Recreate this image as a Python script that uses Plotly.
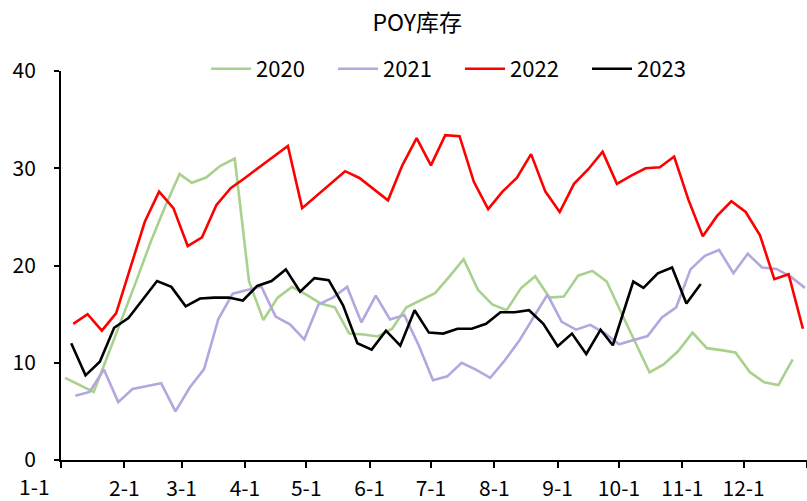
import pandas as pd
import plotly.graph_objects as go

BASE_YEAR = "2023"  # all years are drawn on one common Jan–Dec axis

# ---- data (weekly POY inventory, days) ----
dates_2020 = list(pd.date_range("2020-01-03", periods=52, freq="7D").strftime("%m-%d"))
vals_2020 = [8.45, 7.7, 7.0, 10.8, 14.6, 18.5, 22.5, 26.1, 29.4, 28.5, 29.05, 30.25, 31.0,
             18.35, 14.4, 16.7, 17.8, 17.0, 16.1, 15.7, 13.0, 12.9, 12.7, 13.5, 15.7, 16.45,
             17.15, 18.85, 20.65, 17.5, 16.0, 15.4, 17.65, 18.9, 16.7, 16.8, 18.95, 19.45,
             18.35, 15.2, 12.1, 9.0, 9.85, 11.2, 13.1, 11.5, 11.3, 11.05, 9.05, 8.0, 7.7, 10.35]

dates_2021 = list(pd.date_range("2021-01-08", periods=52, freq="7D").strftime("%m-%d"))
vals_2021 = [6.6, 7.0, 9.3, 5.95, 7.3, 7.6, 7.9, 5.0, 7.45, 9.35, 14.5, 17.1, 17.5, 17.85,
             14.75, 13.95, 12.4, 16.0, 16.7, 17.8, 14.15, 16.9, 14.45, 14.9, 11.8, 8.2, 8.6,
             10.0, 9.3, 8.45, 10.2, 12.2, 14.6, 17.0, 14.2, 13.4, 13.9, 13.05, 11.9, 12.3,
             12.75, 14.65, 15.7, 19.6, 21.0, 21.6, 19.2, 21.2, 19.8, 19.65, 18.85, 17.7]

dates_2022 = list(pd.date_range("2022-01-07", periods=52, freq="7D").strftime("%m-%d"))
vals_2022 = [14.0, 15.0, 13.3, 15.1, 19.8, 24.5, 27.6, 25.9, 22.0, 22.9, 26.2, 27.95, 29.0,
             30.1, 31.2, 32.3, 25.9, 27.2, 28.4, 29.7, 29.0, 27.85, 26.7, 30.3, 33.1, 30.3,
             33.4, 33.3, 28.6, 25.8, 27.6, 29.0, 31.45, 27.6, 25.5, 28.4, 29.9, 31.7, 28.4,
             29.25, 30.0, 30.1, 31.2, 26.75, 23.0, 25.1, 26.6, 25.5, 23.1, 18.6, 19.1, 13.5]

dates_2023 = ["01-06", "01-13", "01-20", "01-27", "02-03", "02-10", "02-17", "02-24",
              "03-03", "03-10", "03-17", "03-24", "03-31", "04-07", "04-14", "04-21",
              "04-28", "05-05", "05-12", "05-19", "05-26", "06-02", "06-09", "06-16",
              "06-23", "06-30", "07-07", "07-14", "07-21", "07-28", "08-04", "08-11",
              "08-18", "08-25", "09-01", "09-08", "09-15", "09-22", "09-28", "10-08",
              "10-13", "10-20", "10-27", "11-03", "11-10"]
vals_2023 = [12.0, 8.7, 10.1, 13.6, 14.6, 16.5, 18.4, 17.8, 15.8, 16.6, 16.7, 16.7, 16.4,
             17.9, 18.4, 19.6, 17.3, 18.7, 18.5, 15.9, 12.0, 11.35, 13.3, 11.75, 15.4, 13.1,
             13.0, 13.5, 13.5, 14.0, 15.2, 15.2, 15.4, 14.0, 11.7, 13.0, 10.9, 13.4, 11.8,
             18.35, 17.7, 19.2, 19.8, 16.1, 18.1]

series_names = ["2020", "2021", "2022", "2023"]
series_dates = [dates_2020, dates_2021, dates_2022, dates_2023]
series_vals = [vals_2020, vals_2021, vals_2022, vals_2023]
series_colors = ["#A9D18E", "#B3A7DF", "#FF0000", "#000000"]

tick_months = ["01", "02", "03", "04", "05", "06", "07", "08", "09", "10", "11", "12"]
tick_text = ["1-1", "2-1", "3-1", "4-1", "5-1", "6-1", "7-1", "8-1", "9-1", "10-1", "11-1", "12-1"]
y_ticks = [0, 10, 20, 30, 40]

FONT = "Noto Sans CJK SC, Noto Sans, sans-serif"
TICK_SIZE = 21

fig = go.Figure()
for name, ds, vs, col in zip(series_names, series_dates, series_vals, series_colors):
    fig.add_trace(go.Scatter(
        x=[f"{BASE_YEAR}-{d}" for d in ds], y=vs, name=name, mode="lines",
        line=dict(color=col, width=2.6), hoverinfo="skip"))

x_start = f"{BASE_YEAR}-01-01"
x_end = f"{int(BASE_YEAR) + 1}-01-01"

# first month label sits left of the axis corner in the reference
fig.add_annotation(x=x_start, xref="x", xanchor="right", xshift=-10,
                   y=0, yref="paper", yanchor="middle", yshift=-26,
                   text=tick_text[0], showarrow=False, borderpad=0,
                   font=dict(family=FONT, size=TICK_SIZE, color="black"))

fig.update_layout(
    width=807, height=501,
    margin=dict(l=61, r=0, t=71, b=41, autoexpand=False),
    paper_bgcolor="white", plot_bgcolor="white",
    font=dict(family=FONT, size=TICK_SIZE, color="black"),
    title=dict(text="POY库存", x=0.517, xanchor="center", xref="container",
               y=0.955, yanchor="middle", yref="container",
               font=dict(family=FONT, size=23, color="black")),
    legend=dict(orientation="h", x=206 / 807, xanchor="left", xref="container",
                y=1 - 69 / 501, yanchor="middle", yref="container",
                font=dict(family=FONT, size=22, color="black"),
                bgcolor="rgba(0,0,0,0)", itemwidth=40, entrywidth=72, tracegroupgap=0),
    showlegend=True,
)
fig.update_xaxes(
    type="date", range=[x_start, x_end], automargin=False,
    tickmode="array",
    tickvals=[f"{BASE_YEAR}-{m}-01" for m in tick_months] + [x_end],
    ticktext=[""] + tick_text[1:] + [""],
    showline=True, linecolor="black", linewidth=2,
    ticks="outside", ticklen=6, tickwidth=1.5, tickcolor="black",
    showgrid=False, zeroline=False, ticklabelstandoff=3,
    tickfont=dict(family=FONT, size=TICK_SIZE, color="black"),
)
fig.update_yaxes(
    range=[0, 40], tickmode="array", tickvals=y_ticks, automargin=False,
    showline=True, linecolor="black", linewidth=2,
    ticks="outside", ticklen=5, tickwidth=1.5, tickcolor="black",
    showgrid=False, zeroline=False, ticklabelstandoff=14,
    tickfont=dict(family=FONT, size=TICK_SIZE, color="black"),
)

fig.write_html("out.html", config={"displayModeBar": False},
               post_script="document.body.style.margin='0';document.body.style.padding='0';")
